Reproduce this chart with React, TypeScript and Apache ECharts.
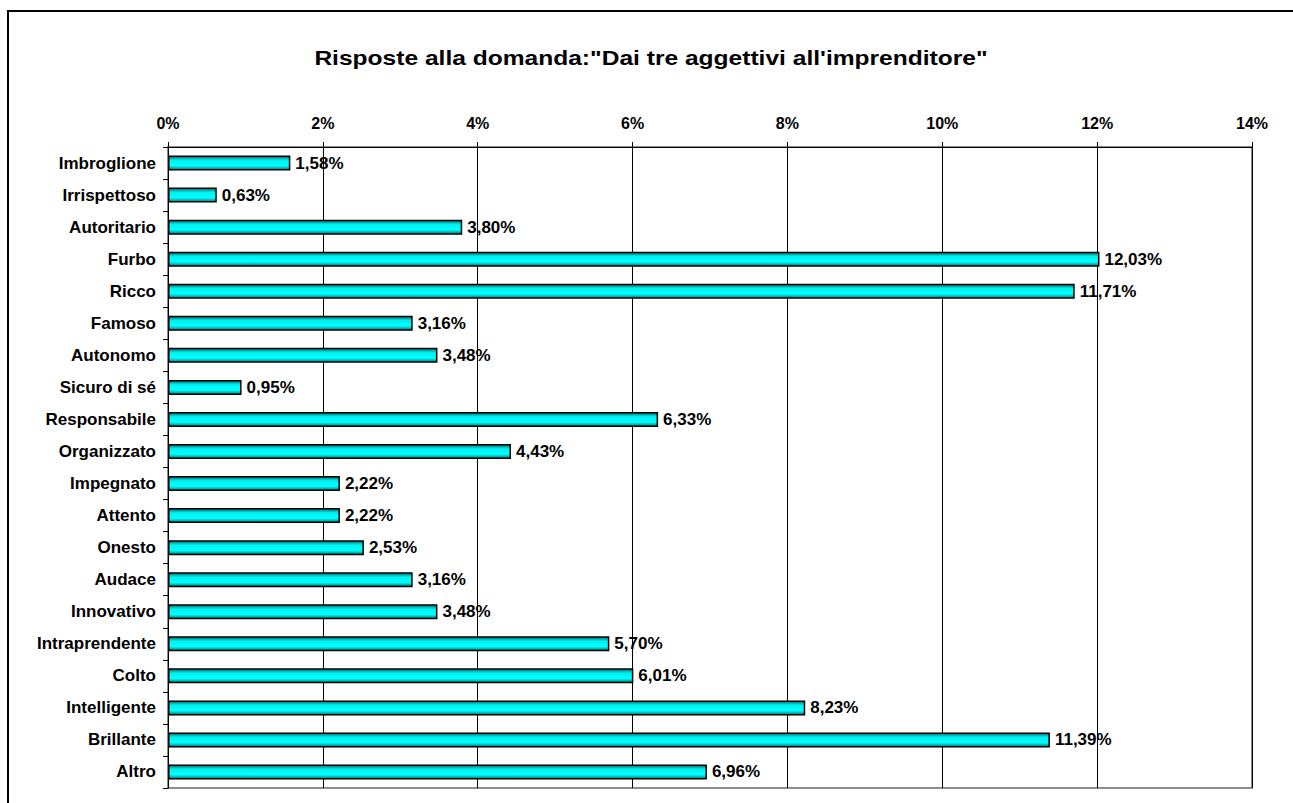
import React, { useEffect, useRef } from "react";
import * as echarts from "echarts";

const titleText = "Risposte alla domanda:\"Dai tre aggettivi all'imprenditore\"";
const categories = [
  "Imbroglione", "Irrispettoso", "Autoritario", "Furbo", "Ricco", "Famoso", "Autonomo",
  "Sicuro di sé", "Responsabile", "Organizzato", "Impegnato", "Attento", "Onesto", "Audace",
  "Innovativo", "Intraprendente", "Colto", "Intelligente", "Brillante", "Altro",
];
const values = [
  1.58, 0.63, 3.8, 12.03, 11.71, 3.16, 3.48, 0.95, 6.33, 4.43,
  2.22, 2.22, 2.53, 3.16, 3.48, 5.7, 6.01, 8.23, 11.39, 6.96,
];
const axisMin = 0;
const axisMax = 14;
const axisStep = 2;

const FONT = "'Liberation Sans', Arial, sans-serif";

export default function App() {
  const ref = useRef<HTMLDivElement>(null);
  useEffect(() => {
    if (!ref.current) return;
    const chart = echarts.init(ref.current, null, { renderer: "svg" });
    chart.setOption({
      animation: false,
      backgroundColor: "#ffffff",
      textStyle: { fontFamily: FONT },
      graphic: [
        {
          type: "text",
          x: 651,
          y: 58,
          scaleX: 1.17,
          style: {
            text: titleText,
            fontFamily: FONT,
            fontWeight: "bold",
            fontSize: 21,
            fill: "#000",
            align: "center",
            verticalAlign: "middle",
          },
          silent: true,
        },
        {
          type: "rect",
          shape: { x: 8, y: 11, width: 1400, height: 900 },
          style: { fill: "none", stroke: "#000", lineWidth: 2 },
          silent: true,
          z: 100,
        },
      ],
      grid: {
        left: 168,
        top: 147,
        right: 41,
        bottom: 15,
        show: true,
        borderColor: "#8c8c8c",
        borderWidth: 2,
        containLabel: false,
      },
      xAxis: {
        type: "value",
        position: "top",
        min: axisMin,
        max: axisMax,
        interval: axisStep,
        axisLine: { show: true, lineStyle: { color: "#000", width: 1 } },
        axisTick: { show: true, length: 5, lineStyle: { color: "#000" } },
        splitLine: { show: true, lineStyle: { color: "#000", width: 1 } },
        axisLabel: {
          formatter: "{value}%",
          fontFamily: FONT,
          fontWeight: "bold",
          fontSize: 16,
          color: "#000",
          margin: 16,
        },
      },
      yAxis: {
        type: "category",
        data: categories,
        inverse: true,
        axisLine: { show: true, lineStyle: { color: "#000", width: 1 } },
        axisTick: { show: true, length: 5, lineStyle: { color: "#000" } },
        splitLine: { show: false },
        axisLabel: {
          fontFamily: FONT,
          fontWeight: "bold",
          fontSize: 17,
          color: "#000",
          margin: 12,
        },
      },
      series: [
        {
          type: "bar",
          data: values,
          barWidth: 15,
          itemStyle: {
            color: new echarts.graphic.LinearGradient(0, 0, 0, 1, [
              { offset: 0, color: "#006f6f" },
              { offset: 0.3, color: "#00f0f0" },
              { offset: 0.7, color: "#00ffff" },
              { offset: 1, color: "#007878" },
            ]),
            borderColor: "#000",
            borderWidth: 1.5,
          },
          label: {
            show: true,
            position: "right",
            distance: 5,
            fontFamily: FONT,
            fontWeight: "bold",
            fontSize: 17,
            color: "#000",
            formatter: (p: any) => p.value.toFixed(2).replace(".", ",") + "%",
          },
        },
      ],
    });
    return () => chart.dispose();
  }, []);
  return (
    <div
      ref={ref}
      style={{ position: "fixed", left: 0, top: 0, width: 1293, height: 803 }}
    />
  );
}
